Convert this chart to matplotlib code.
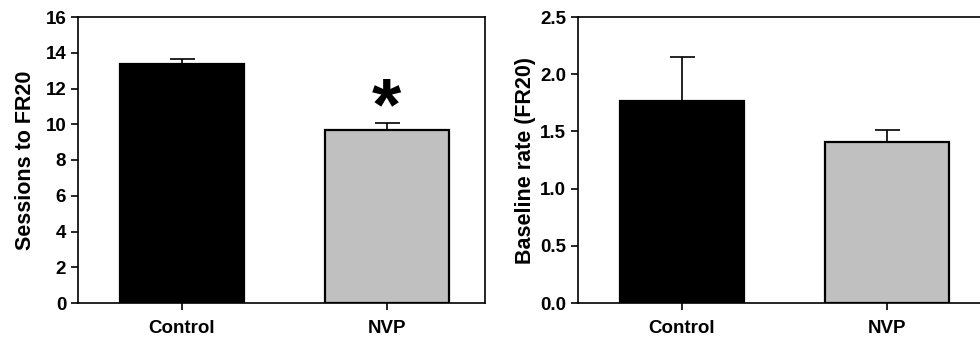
import numpy as np
import matplotlib.pyplot as plt

plt.rcParams['font.family'] = ['Liberation Sans', 'DejaVu Sans']
plt.rcParams['font.weight'] = 'bold'

groups = ['Control', 'NVP']
colors = ['black', '#c0c0c0']

sessions = [13.35, 9.68]
sessions_err = [0.32, 0.41]

baseline = [1.77, 1.41]
baseline_err = [0.38, 0.105]

W, H = 980, 341
fig = plt.figure(figsize=(W / 100, H / 100), dpi=100)

ax1 = fig.add_axes([78 / W, 1 - 303 / H, 407 / W, 286 / H])
ax2 = fig.add_axes([578 / W, 1 - 303 / H, 407 / W, 286 / H])

x = np.arange(len(groups))


def draw(ax, vals, errs, ylim, yticks, ylabel, fmt, pad):
    ax.bar(x, vals, width=0.605, color=colors, edgecolor='black', linewidth=1.6, zorder=2)
    ax.errorbar(x, vals, yerr=[np.zeros(len(vals)), errs], fmt='none', ecolor='black',
                elinewidth=1.2, capsize=9, capthick=1.2, zorder=1)
    ax.set_xlim(-0.505, 1.48)
    ax.set_ylim(*ylim)
    ax.set_yticks(yticks)
    ax.set_yticklabels([fmt.format(t) for t in yticks])
    ax.set_xticks(x)
    ax.set_xticklabels(groups)
    ax.set_ylabel(ylabel, fontsize=15.5, fontweight='bold', labelpad=pad)
    ax.tick_params(direction='out', length=5, width=1.2, labelsize=13.5)
    ax.tick_params(axis='x', pad=7)
    for s in ax.spines.values():
        s.set_linewidth(1.2)


draw(ax1, sessions, sessions_err, (0, 16), np.arange(0, 17, 2), 'Sessions to FR20', '{:.0f}', 7)
draw(ax2, baseline, baseline_err, (0, 2.5), np.arange(0, 2.6, 0.5), 'Baseline rate (FR20)', '{:.1f}', 3)

ax1.text(1, sessions[1] + sessions_err[1] + 0.7, '*', ha='center', va='center',
         fontsize=54, fontweight='bold')

fig.savefig('out.png', dpi=100)
